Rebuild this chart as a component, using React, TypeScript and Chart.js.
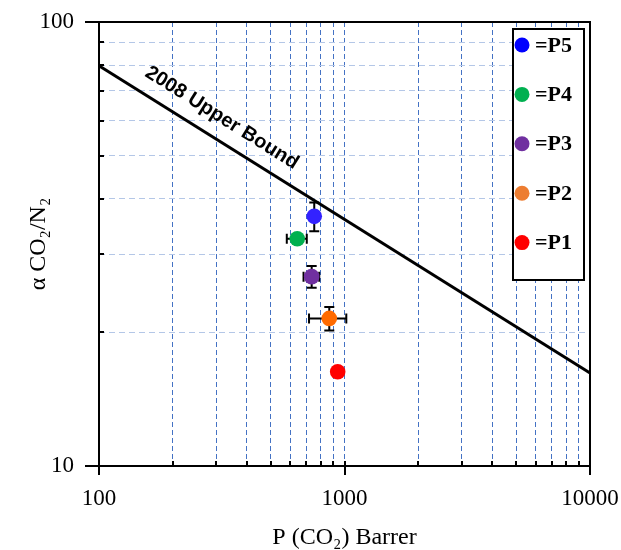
import React, { useEffect, useRef } from 'react';
import { Chart, registerables } from 'chart.js';

Chart.register(...registerables);

// ---- data ----
const seriesLabels = ['P1', 'P2', 'P3', 'P4', 'P5'];
const permeability = [938, 867, 735, 642, 753];
const selectivity = [16.3, 21.5, 26.7, 32.5, 36.5];
const permeabilityError = [0, 150, 54, 60, 0];
const selectivityError = [0, 1.3, 1.5, 0, 2.7];
const pointColors = ['#FF0000', '#FF6A00', '#7030A0', '#00B050', '#3322FF'];
const legendColors = ['#FF0000', '#ED7D31', '#7030A0', '#00B050', '#0000FF'];

const boundLabel = '2008 Upper Bound';
const boundPermeability = [100, 10000];
const boundSelectivity = [79.7, 16.2];

const xTickValues = [100, 200, 300, 400, 500, 600, 700, 800, 900, 1000, 2000, 3000, 4000, 5000, 6000, 7000, 8000, 9000, 10000];
const yTickValues = [10, 20, 30, 40, 50, 60, 70, 80, 90, 100];
const xLabelledTicks = [100, 1000, 10000];
const yLabelledTicks = [10, 100];

const xTitle = 'P (CO\u2082) Barrer';
const yTitle = '\u03b1 CO\u2082/N\u2082';

const SERIF = '"Liberation Serif", "Times New Roman", serif';
const SANS = '"Liberation Sans", Arial, sans-serif';

const isLabelled = (v: number, list: number[]) => list.some((t) => Math.abs(t - v) < 1e-6 * t);

const errorBarPlugin = {
  id: 'errorBars',
  beforeDatasetsDraw(chart: any) {
    const { ctx } = chart;
    const xs = chart.scales.x;
    const ys = chart.scales.y;
    const cap = 5;
    ctx.save();
    ctx.strokeStyle = '#000';
    ctx.lineWidth = 2;
    chart.data.datasets.forEach((ds: any) => {
      if (!ds.errX) return;
      ds.data.forEach((p: any, j: number) => {
        const ex = ds.errX[j] || 0;
        const ey = ds.errY[j] || 0;
        const cx = xs.getPixelForValue(p.x);
        const cy = ys.getPixelForValue(p.y);
        if (ex > 0) {
          const x1 = xs.getPixelForValue(p.x - ex);
          const x2 = xs.getPixelForValue(p.x + ex);
          ctx.beginPath();
          ctx.moveTo(x1, cy); ctx.lineTo(x2, cy);
          ctx.moveTo(x1, cy - cap); ctx.lineTo(x1, cy + cap);
          ctx.moveTo(x2, cy - cap); ctx.lineTo(x2, cy + cap);
          ctx.stroke();
        }
        if (ey > 0) {
          const y1 = ys.getPixelForValue(p.y - ey);
          const y2 = ys.getPixelForValue(p.y + ey);
          ctx.beginPath();
          ctx.moveTo(cx, y1); ctx.lineTo(cx, y2);
          ctx.moveTo(cx - cap, y1); ctx.lineTo(cx + cap, y1);
          ctx.moveTo(cx - cap, y2); ctx.lineTo(cx + cap, y2);
          ctx.stroke();
        }
      });
    });
    ctx.restore();
  },
};

const framePlugin = {
  id: 'frame',
  afterDatasetsDraw(chart: any) {
    const { ctx, chartArea } = chart;
    const { left, right, top, bottom } = chartArea;
    const xs = chart.scales.x;
    const ys = chart.scales.y;
    ctx.save();
    ctx.strokeStyle = '#000';
    ctx.lineWidth = 2;
    ctx.strokeRect(left, top, right - left, bottom - top);
    ctx.beginPath();
    xs.ticks.forEach((t: any) => {
      const px = Math.round(xs.getPixelForValue(t.value));
      if (isLabelled(t.value, xLabelledTicks)) {
        ctx.moveTo(px, bottom - 5); ctx.lineTo(px, bottom + 9);
      } else {
        ctx.moveTo(px, bottom - 5); ctx.lineTo(px, bottom);
      }
    });
    ys.ticks.forEach((t: any) => {
      const py = Math.round(ys.getPixelForValue(t.value));
      if (isLabelled(t.value, yLabelledTicks)) {
        ctx.moveTo(left - 14, py); ctx.lineTo(left, py);
      } else {
        ctx.moveTo(left, py); ctx.lineTo(left + 5, py);
      }
    });
    ctx.stroke();
    ctx.restore();
  },
};

const boundLabelPlugin = {
  id: 'boundLabel',
  afterDatasetsDraw(chart: any) {
    const { ctx } = chart;
    const xs = chart.scales.x;
    const ys = chart.scales.y;
    const x1 = xs.getPixelForValue(boundPermeability[0]);
    const y1 = ys.getPixelForValue(boundSelectivity[0]);
    const x2 = xs.getPixelForValue(boundPermeability[1]);
    const y2 = ys.getPixelForValue(boundSelectivity[1]);
    const ang = Math.atan2(y2 - y1, x2 - x1);
    const ax = xs.getPixelForValue(285);
    const ay = y1 + ((ax - x1) / (x2 - x1)) * (y2 - y1);
    const off = 21;
    const cx = ax + Math.sin(ang) * off;
    const cy = ay - Math.cos(ang) * off;
    ctx.save();
    ctx.translate(cx, cy);
    ctx.rotate(ang);
    ctx.fillStyle = '#000';
    ctx.font = `bold 20px ${SANS}`;
    ctx.textAlign = 'center';
    ctx.textBaseline = 'middle';
    ctx.fillText(boundLabel, 0, 0);
    ctx.restore();
  },
};

const legendPlugin = {
  id: 'boxLegend',
  afterDraw(chart: any) {
    const { ctx } = chart;
    const boxL = 513, boxT = 29, boxR = 584, boxB = 280;
    ctx.save();
    ctx.fillStyle = '#fff';
    ctx.fillRect(boxL, boxT, boxR - boxL, boxB - boxT);
    ctx.strokeStyle = '#000';
    ctx.lineWidth = 2;
    ctx.strokeRect(boxL, boxT, boxR - boxL, boxB - boxT);
    const items = chart.data.datasets.filter((d: any) => d.legendColor).slice().reverse();
    const startY = 45;
    const step = 49.4;
    ctx.font = `bold 22px ${SERIF}`;
    ctx.textBaseline = 'middle';
    ctx.textAlign = 'left';
    items.forEach((d: any, i: number) => {
      const y = startY + i * step;
      ctx.fillStyle = d.legendColor;
      ctx.beginPath();
      ctx.arc(522, y, 7.5, 0, Math.PI * 2);
      ctx.fill();
      ctx.fillStyle = '#000';
      ctx.fillText('=' + d.label, 535, y + 1);
    });
    ctx.restore();
  },
};

export default function App() {
  const canvasRef = useRef<HTMLCanvasElement | null>(null);

  useEffect(() => {
    document.body.style.margin = '0';
    const canvas = canvasRef.current;
    if (!canvas) return;

    const datasets: any[] = seriesLabels.map((label, i) => ({
      type: 'scatter',
      label,
      data: [{ x: permeability[i], y: selectivity[i] }],
      backgroundColor: pointColors[i],
      borderWidth: 0,
      pointRadius: 7.8,
      pointHoverRadius: 7.8,
      errX: [permeabilityError[i]],
      errY: [selectivityError[i]],
      legendColor: legendColors[i],
      order: 1,
    }));
    datasets.push({
      type: 'line',
      label: boundLabel,
      data: boundPermeability.map((x, i) => ({ x, y: boundSelectivity[i] })),
      borderColor: '#000',
      borderWidth: 3,
      pointRadius: 0,
      fill: false,
      tension: 0,
      order: 10,
    });

    const chart = new Chart(canvas, {
      type: 'scatter',
      data: { datasets },
      options: {
        animation: false,
        responsive: false,
        maintainAspectRatio: false,
        layout: { padding: { left: 0, right: 31, top: 22, bottom: 0 } },
        plugins: { legend: { display: false }, tooltip: { enabled: false } },
        scales: {
          x: {
            type: 'logarithmic',
            min: 100,
            max: 10000,
            afterBuildTicks: (s: any) => { s.ticks = xTickValues.map((value) => ({ value })); },
            afterFit: (s: any) => { s.height = 84; s.paddingLeft = 0; s.paddingRight = 0; },
            border: { display: false, dash: [5, 3] },
            grid: {
              color: '#4472C4',
              lineWidth: 1,
              drawTicks: true,
              tickLength: 9,
              tickColor: 'rgba(0,0,0,0)',
            },
            ticks: {
              autoSkip: false,
              maxRotation: 0,
              padding: 10,
              color: '#000',
              font: { family: SERIF, size: 23 },
              callback: (v: any) => (isLabelled(Number(v), xLabelledTicks) ? String(v) : ''),
            },
            title: {
              display: true,
              text: xTitle,
              color: '#000',
              font: { family: SERIF, size: 24, lineHeight: 1.0 },
              padding: { top: 0, bottom: 0 },
            },
          },
          y: {
            type: 'logarithmic',
            min: 10,
            max: 100,
            afterBuildTicks: (s: any) => { s.ticks = yTickValues.map((value) => ({ value })); },
            afterFit: (s: any) => { s.width = 99; s.paddingTop = 0; s.paddingBottom = 0; },
            border: { display: false, dash: [6, 4] },
            grid: {
              color: '#B4C7E7',
              lineWidth: 1,
              drawTicks: true,
              tickLength: 14,
              tickColor: 'rgba(0,0,0,0)',
            },
            ticks: {
              autoSkip: false,
              padding: 11,
              color: '#000',
              font: { family: SERIF, size: 23 },
              callback: (v: any) => (isLabelled(Number(v), yLabelledTicks) ? String(v) : ''),
            },
            title: {
              display: true,
              text: yTitle,
              color: '#000',
              font: { family: SERIF, size: 24, lineHeight: 1.2 },
              padding: { top: 24, bottom: 0 },
            },
          },
        },
      } as any,
      plugins: [errorBarPlugin, framePlugin, boundLabelPlugin, legendPlugin],
    });

    return () => chart.destroy();
  }, []);

  return (
    <div style={{ width: 621, height: 550, background: '#fff' }}>
      <canvas ref={canvasRef} width={621} height={550} style={{ display: 'block', width: 621, height: 550 }} />
    </div>
  );
}
